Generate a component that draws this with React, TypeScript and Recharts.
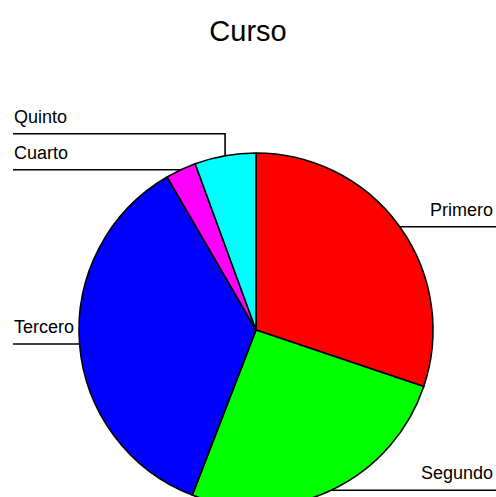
import { Cell, Pie, PieChart } from "recharts";

const categories = ["Primero", "Segundo", "Tercero", "Cuarto", "Quinto"];
const counts = [54, 46, 64, 5, 10];
const sliceColors = ["#ff0000", "#00ff00", "#0000ff", "#ff00ff", "#00ffff"];

const W = 496;
const H = 497;
const CX = 256;
const CY = 330;
const R = 177;
const LABEL_GAP = 36;
const FONT = "'Liberation Sans', Arial, sans-serif";

const data = categories.map((name, i) => ({ name, value: counts[i] }));

// leader line heights, pushed apart when two labels on one side crowd
function leaderRows() {
  const total = counts.reduce((a, b) => a + b, 0);
  let start = 90;
  const rows = counts.map((v, i) => {
    const sweep = (v / total) * 360;
    const mid = start - sweep / 2;
    start -= sweep;
    const rad = (mid * Math.PI) / 180;
    const x = CX + R * Math.cos(rad);
    const y = CY - R * Math.sin(rad);
    return { i, left: x < CX, lineY: y };
  });
  for (const side of [true, false]) {
    const group = rows.filter((r) => r.left === side).sort((a, b) => b.lineY - a.lineY);
    for (let k = 1; k < group.length; k++) {
      const limit = group[k - 1].lineY - LABEL_GAP;
      if (group[k].lineY > limit) group[k].lineY = limit;
    }
  }
  return rows;
}

const rows = leaderRows();

function renderLabel(props: any) {
  const { cx, cy, midAngle, outerRadius, index } = props;
  const rad = (-midAngle * Math.PI) / 180;
  const ex = cx + outerRadius * Math.cos(rad);
  const ey = cy + outerRadius * Math.sin(rad);
  const lineY = rows[index].lineY;
  const left = ex < cx;
  const endX = left ? 13 : W;
  return (
    <g key={`label-${index}`}>
      <polyline
        points={`${endX},${lineY} ${ex},${lineY} ${ex},${ey}`}
        fill="none"
        stroke="#000"
        strokeWidth={1.6}
      />
      <text
        x={left ? 14 : 493}
        y={lineY - 11}
        textAnchor={left ? "start" : "end"}
        fontSize={18}
        fontFamily={FONT}
        fill="#000"
      >
        {categories[index]}
      </text>
    </g>
  );
}

export default function App() {
  return (
    <div style={{ position: "relative", width: W, height: H, overflow: "hidden", background: "#fff" }}>
      <style>{`body{margin:0;overflow:hidden}`}</style>
      <div
        style={{
          position: "absolute",
          top: 17,
          left: 0,
          width: W,
          textAlign: "center",
          fontFamily: FONT,
          fontSize: 29,
          lineHeight: 1,
          color: "#000",
        }}
      >
        Curso
      </div>
      <PieChart width={W} height={H} margin={{ top: 0, right: 0, bottom: 0, left: 0 }}>
        <Pie
          data={data}
          dataKey="value"
          nameKey="name"
          cx={CX}
          cy={CY}
          outerRadius={R}
          startAngle={90}
          endAngle={-270}
          stroke="#000"
          strokeWidth={1.6}
          label={renderLabel}
          labelLine={false}
          isAnimationActive={false}
        >
          {data.map((d, i) => (
            <Cell key={d.name} fill={sliceColors[i]} />
          ))}
        </Pie>
      </PieChart>
    </div>
  );
}
